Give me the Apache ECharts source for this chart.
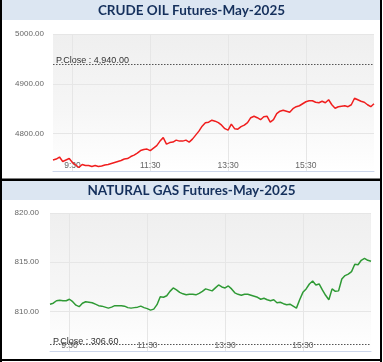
<!DOCTYPE html>
<html>
<head>
<meta charset="utf-8">
<script src="https://cdn.jsdelivr.net/npm/echarts@6/dist/echarts.min.js"></script>
<style>
html,body{margin:0;padding:0;background:#fff;}
#c{width:383px;height:362px;}
</style>
</head>
<body>
<div id="c"></div>
<script>
// ---- data ----
const startMinute = 9 * 60, endMinute = 17 * 60 + 15, stepMinute = 5;
const times = [];
for (let m = startMinute; m <= endMinute; m += stepMinute) {
  times.push(Math.floor(m / 60) + ':' + String(m % 60).padStart(2, '0'));
}
const xTickLabels = ['9:30', '11:30', '13:30', '15:30'];

const crudeTitle = 'CRUDE OIL Futures-May-2025';
const crudeValues = [
  4747,4749,4753,4744,4747,4750,4742,4737,4732,4738,
  4736,4736,4734,4736,4734,4735,4737,4738,4740,4742,
  4744,4746,4749,4750,4754,4757,4761,4766,4768,4769,
  4766,4771,4776,4785,4792,4779,4782,4783,4787,4785,
  4785,4787,4783,4789,4797,4805,4815,4822,4823,4827,
  4825,4822,4817,4810,4807,4819,4810,4809,4814,4817,
  4822,4832,4835,4832,4828,4834,4835,4823,4828,4840,
  4845,4847,4845,4843,4850,4854,4856,4860,4864,4866,
  4866,4863,4862,4865,4862,4868,4858,4851,4854,4855,
  4856,4854,4858,4871,4868,4865,4863,4858,4854,4860
];
const crudeYTicks = [4800, 4900, 5000];
const crudeYMin = 4725, crudeYMax = 5000;
const crudePClose = 4940.00;
const crudePCloseLabel = 'P.Close : 4,940.00';

const ngTitle = 'NATURAL GAS Futures-May-2025';
const ngValues = [
  810.75,810.85,811.1,811.15,811.1,811.1,811.25,811.0,810.65,810.5,
  810.85,811.0,810.95,810.9,810.75,810.6,810.55,810.45,810.35,810.45,
  810.6,810.6,810.6,810.55,810.4,810.35,810.4,810.45,810.55,810.4,
  810.3,810.15,810.25,810.7,811.5,811.45,811.6,812.05,812.4,812.2,
  811.95,811.8,811.7,811.75,811.75,811.7,811.85,812.05,812.3,812.2,
  812.1,812.4,812.7,812.5,812.4,812.6,812.3,811.9,811.75,811.65,
  811.75,811.75,811.65,811.55,811.45,811.25,811.35,811.2,811.1,811.2,
  810.9,810.95,810.8,810.7,810.75,810.55,810.35,811.2,811.95,812.3,
  812.8,813.1,812.7,812.8,812.2,811.65,811.2,812.3,812.05,812.1,
  813.3,813.65,813.8,814.05,814.8,814.75,815.2,815.4,815.2,815.1
];
const ngYTicks = [810, 815, 820];
const ngYMin = 806, ngYMax = 820;
const ngPClose = 306.60;
const ngPCloseLabel = 'P.Close : 306.60';
// previous close below the visible range is pinned near the bottom edge
const ngPCloseShown = Math.max(ngPClose, ngYMin + 0.65);

// ---- chart ----
const chart = echarts.init(document.getElementById('c'), null, {renderer: 'canvas'});
const isTick = (i, v) => xTickLabels.indexOf(v) >= 0;
const plotBg = new echarts.graphic.LinearGradient(0, 0, 0, 1, [
  {offset: 0, color: '#efefef'},
  {offset: 0.55, color: '#f6f6f6'},
  {offset: 1, color: '#ffffff'}
]);

function xAxisFor(gridIndex) {
  return {
    type: 'category', gridIndex, data: times, boundaryGap: false,
    axisLine: {show: true, lineStyle: {color: '#ccd6eb', width: 1}},
    axisTick: {show: false, interval: isTick},
    axisLabel: {inside: true, interval: isTick, margin: 1, color: '#666', fontSize: 8.5,
      fontFamily: 'Liberation Sans'},
    splitLine: {show: true, interval: isTick, lineStyle: {color: '#e6e6e6', width: 1}}
  };
}
function yAxisFor(gridIndex, min, max, ticks, margin) {
  return {
    type: 'value', gridIndex, min, max, scale: true,
    axisLine: {show: false},
    axisTick: {show: false, customValues: ticks},
    axisLabel: {customValues: ticks, margin, color: '#666', fontSize: 8,
      fontFamily: 'Liberation Sans', formatter: v => v.toFixed(2)},
    splitLine: {show: true, customValues: ticks, lineStyle: {color: '#e6e6e6', width: 1}}
  };
}
function pCloseLine(value, text) {
  return {
    silent: true, symbol: 'none', animation: false,
    lineStyle: {type: [1.5, 1.5], color: '#555', width: 1},
    label: {show: true, position: 'insideStartTop', distance: [3, -1],
      formatter: text, color: '#333', fontSize: 9, fontFamily: 'Liberation Sans'},
    data: [{yAxis: value}]
  };
}

const titleStyle = {fontFamily: 'Lato', fontWeight: 'bold', fontSize: 13.5, color: '#15305c'};

chart.setOption({
  animation: false,
  backgroundColor: '#fff',
  title: [
    {text: crudeTitle, left: 'center', top: 4, padding: 0, textStyle: titleStyle},
    {text: ngTitle, left: 'center', top: 184, padding: 0, textStyle: titleStyle}
  ],
  graphic: [
    {type: 'rect', z: -10, shape: {x: 2, y: 0, width: 378, height: 20}, style: {fill: '#dce6f2'}},
    {type: 'rect', z: -10, shape: {x: 2, y: 181, width: 378, height: 19}, style: {fill: '#dce6f2'}},
    {type: 'rect', z: 10, shape: {x: 0, y: 0, width: 2, height: 362}, style: {fill: '#000'}},
    {type: 'rect', z: 10, shape: {x: 380, y: 0, width: 2, height: 362}, style: {fill: '#000'}},
    {type: 'rect', z: 10, shape: {x: 0, y: 178.5, width: 382, height: 2.5}, style: {fill: '#000'}},
    {type: 'rect', z: 10, shape: {x: 0, y: 359, width: 382, height: 2}, style: {fill: '#000'}}
  ],
  grid: [
    {left: 53, top: 34, right: 9, height: 137, show: true, borderWidth: 0, backgroundColor: plotBg},
    {left: 50, top: 213, right: 12, height: 138, show: true, borderWidth: 0, backgroundColor: plotBg}
  ],
  xAxis: [xAxisFor(0), xAxisFor(1)],
  yAxis: [
    yAxisFor(0, crudeYMin, crudeYMax, crudeYTicks, 9),
    yAxisFor(1, ngYMin, ngYMax, ngYTicks, 11)
  ],
  series: [
    {type: 'line', xAxisIndex: 0, yAxisIndex: 0, data: crudeValues, showSymbol: false,
      lineStyle: {color: '#f01e1e', width: 1.5}, itemStyle: {color: '#f01e1e'},
      markLine: pCloseLine(crudePClose, crudePCloseLabel)},
    {type: 'line', xAxisIndex: 1, yAxisIndex: 1, data: ngValues, showSymbol: false,
      lineStyle: {color: '#2f9a35', width: 1.5}, itemStyle: {color: '#2f9a35'},
      markLine: pCloseLine(ngPCloseShown, ngPCloseLabel)}
  ]
});
</script>
</body>
</html>
